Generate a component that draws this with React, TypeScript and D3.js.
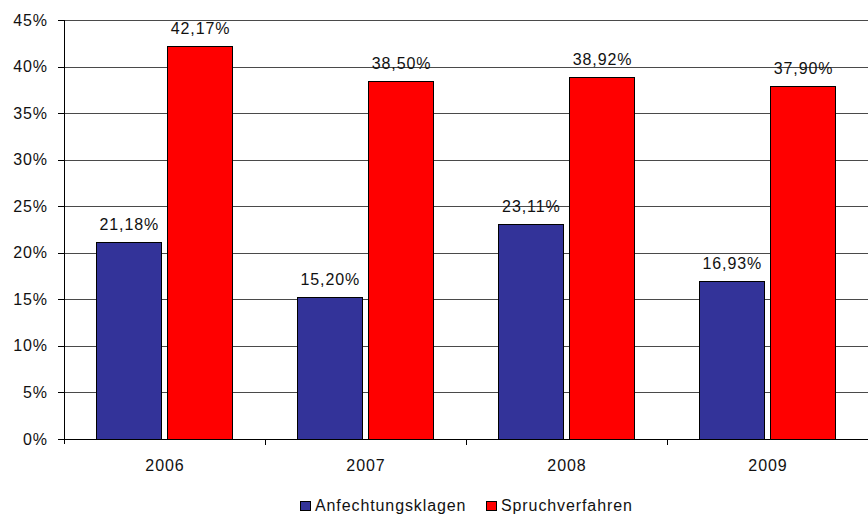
import React, { useEffect, useRef } from "react";
import * as d3 from "d3";

const years = ["2006", "2007", "2008", "2009"];
const seriesNames = ["Anfechtungsklagen", "Spruchverfahren"];
const anfechtungsklagen = [21.18, 15.2, 23.11, 16.93];
const spruchverfahren = [42.17, 38.5, 38.92, 37.9];
const yTicks = [0, 5, 10, 15, 20, 25, 30, 35, 40, 45];
const colors = ["#333399", "#ff0000"];

const fmt = (v: number) => v.toFixed(2).replace(".", ",") + "%";

const App = () => {
  const svgRef = useRef<SVGSVGElement>(null);

  useEffect(() => {
    const width = 868;
    const height = 514;
    const left = 64;
    const right = 868;
    const top = 20;
    const bottom = 439;

    const svg = d3.select(svgRef.current);
    svg.selectAll("*").remove();

    const font = "Liberation Sans, Arial, sans-serif";
    const fs = 16;
    const ls = 0.9;

    const x0 = d3.scaleBand().domain(years).range([left, right]);
    const bw = x0.bandwidth();
    // bars sit in the middle of each category band
    const x1 = d3
      .scaleBand()
      .domain(seriesNames)
      .range([bw * 0.16, bw * 0.84])
      .paddingInner(0.08);

    const y = d3.scaleLinear().domain([0, 45]).range([bottom, top]);

    // gridlines
    svg
      .append("g")
      .selectAll("line")
      .data(yTicks.filter((t) => t > 0))
      .enter()
      .append("line")
      .attr("x1", left)
      .attr("x2", right)
      .attr("y1", (d) => Math.round(y(d)) + 0.5)
      .attr("y2", (d) => Math.round(y(d)) + 0.5)
      .attr("stroke", "#4a4a4a")
      .attr("stroke-width", 1);

    // bars
    const data = years.map((yr, i) => ({
      year: yr,
      values: [anfechtungsklagen[i], spruchverfahren[i]],
    }));

    const groups = svg
      .append("g")
      .selectAll("g")
      .data(data)
      .enter()
      .append("g")
      .attr("transform", (d) => `translate(${x0(d.year)},0)`);

    groups
      .selectAll("rect")
      .data((d) => d.values.map((v, j) => ({ v, j })))
      .enter()
      .append("rect")
      .attr("x", (d) => Math.round(x1(seriesNames[d.j])!) + 0.5)
      .attr("y", (d) => Math.round(y(d.v)) + 0.5)
      .attr("width", Math.round(x1.bandwidth()))
      .attr("height", (d) => bottom - Math.round(y(d.v)))
      .attr("fill", (d) => colors[d.j])
      .attr("stroke", "#000")
      .attr("stroke-width", 1);

    groups
      .selectAll("text")
      .data((d) => d.values.map((v, j) => ({ v, j })))
      .enter()
      .append("text")
      .attr("x", (d) => x1(seriesNames[d.j])! + x1.bandwidth() / 2 + ls / 2)
      .attr("y", (d) => y(d.v) - 12)
      .attr("text-anchor", "middle")
      .attr("font-family", font)
      .attr("font-size", fs)
      .attr("letter-spacing", ls)
      .attr("fill", "#111")
      .text((d) => fmt(d.v));

    // axes
    const axis = svg.append("g").attr("stroke", "#000");
    axis
      .append("line")
      .attr("x1", left + 0.5)
      .attr("x2", left + 0.5)
      .attr("y1", top)
      .attr("y2", bottom + 5);
    axis
      .append("line")
      .attr("x1", left)
      .attr("x2", right)
      .attr("y1", bottom + 0.5)
      .attr("y2", bottom + 0.5);

    axis
      .selectAll(".ytick")
      .data(yTicks)
      .enter()
      .append("line")
      .attr("x1", left - 6)
      .attr("x2", left)
      .attr("y1", (d) => Math.round(y(d)) + 0.5)
      .attr("y2", (d) => Math.round(y(d)) + 0.5);

    const boundaries = years.map((yr) => x0(yr)!).concat([right]);
    axis
      .selectAll(".xtick")
      .data(boundaries.slice(1))
      .enter()
      .append("line")
      .attr("x1", (d) => Math.round(d) + 0.5)
      .attr("x2", (d) => Math.round(d) + 0.5)
      .attr("y1", bottom)
      .attr("y2", bottom + 6);

    svg
      .append("g")
      .selectAll("text")
      .data(yTicks)
      .enter()
      .append("text")
      .attr("x", 48)
      .attr("y", (d) => y(d))
      .attr("dy", "0.35em")
      .attr("text-anchor", "end")
      .attr("font-family", font)
      .attr("font-size", fs)
      .attr("letter-spacing", ls)
      .attr("fill", "#111")
      .text((d) => `${d}%`);

    svg
      .append("g")
      .selectAll("text")
      .data(years)
      .enter()
      .append("text")
      .attr("x", (d) => x0(d)! + bw / 2 + ls / 2)
      .attr("y", 471)
      .attr("text-anchor", "middle")
      .attr("font-family", font)
      .attr("font-size", fs)
      .attr("letter-spacing", ls)
      .attr("fill", "#111")
      .text((d) => d);

    // legend
    const legendX = [300, 486];
    const legend = svg
      .append("g")
      .selectAll("g")
      .data(seriesNames)
      .enter()
      .append("g")
      .attr("transform", (_, i) => `translate(${legendX[i]},0)`);
    legend
      .append("rect")
      .attr("x", 0.5)
      .attr("y", 501.5)
      .attr("width", 10)
      .attr("height", 9)
      .attr("fill", (_, i) => colors[i])
      .attr("stroke", "#000");
    legend
      .append("text")
      .attr("x", 15)
      .attr("y", 511)
      .attr("font-family", font)
      .attr("font-size", fs)
      .attr("letter-spacing", ls)
      .attr("fill", "#111")
      .text((d) => d);

    svg.attr("width", width).attr("height", height);
  }, []);

  return (
    <svg
      ref={svgRef}
      width={868}
      height={514}
      style={{ position: "absolute", left: 0, top: 0, background: "#fff" }}
    ></svg>
  );
};

export default App;
